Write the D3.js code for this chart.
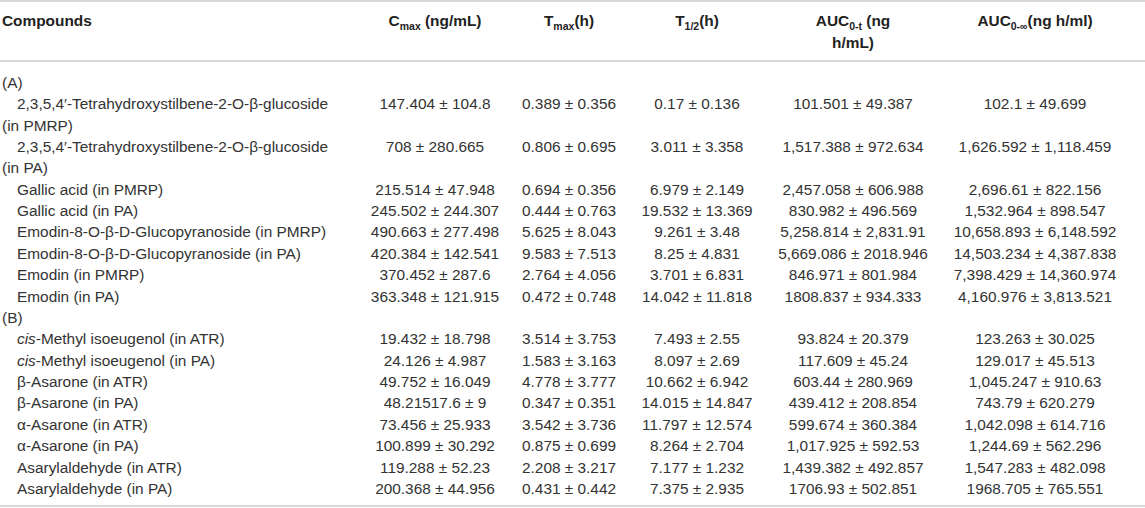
<!DOCTYPE html>
<html><head><meta charset="utf-8">
<script src="https://cdn.jsdelivr.net/npm/d3@7"></script>
<style>html,body{margin:0;padding:0;background:#fff;}svg{display:block;}</style>
</head><body><svg id="c" width="1145" height="508"></svg>
<script>
// ---------------- DATA ----------------
const sectionLabels = ["(A)", "(B)"];
const compoundsA = [
  "2,3,5,4′-Tetrahydroxystilbene-2-O-β-glucoside (in PMRP)",
  "2,3,5,4′-Tetrahydroxystilbene-2-O-β-glucoside (in PA)",
  "Gallic acid (in PMRP)",
  "Gallic acid (in PA)",
  "Emodin-8-O-β-D-Glucopyranoside (in PMRP)",
  "Emodin-8-O-β-D-Glucopyranoside (in PA)",
  "Emodin (in PMRP)",
  "Emodin (in PA)"
];
const compoundsB = [
  "cis-Methyl isoeugenol (in ATR)",
  "cis-Methyl isoeugenol (in PA)",
  "β-Asarone (in ATR)",
  "β-Asarone (in PA)",
  "α-Asarone (in ATR)",
  "α-Asarone (in PA)",
  "Asarylaldehyde (in ATR)",
  "Asarylaldehyde (in PA)"
];
const cmaxValues = [
  "147.404 ± 104.8", "708 ± 280.665", "215.514 ± 47.948", "245.502 ± 244.307",
  "490.663 ± 277.498", "420.384 ± 142.541", "370.452 ± 287.6", "363.348 ± 121.915",
  "19.432 ± 18.798", "24.126 ± 4.987", "49.752 ± 16.049", "48.21517.6 ± 9",
  "73.456 ± 25.933", "100.899 ± 30.292", "119.288 ± 52.23", "200.368 ± 44.956"
];
const tmaxValues = [
  "0.389 ± 0.356", "0.806 ± 0.695", "0.694 ± 0.356", "0.444 ± 0.763",
  "5.625 ± 8.043", "9.583 ± 7.513", "2.764 ± 4.056", "0.472 ± 0.748",
  "3.514 ± 3.753", "1.583 ± 3.163", "4.778 ± 3.777", "0.347 ± 0.351",
  "3.542 ± 3.736", "0.875 ± 0.699", "2.208 ± 3.217", "0.431 ± 0.442"
];
const thalfValues = [
  "0.17 ± 0.136", "3.011 ± 3.358", "6.979 ± 2.149", "19.532 ± 13.369",
  "9.261 ± 3.48", "8.25 ± 4.831", "3.701 ± 6.831", "14.042 ± 11.818",
  "7.493 ± 2.55", "8.097 ± 2.69", "10.662 ± 6.942", "14.015 ± 14.847",
  "11.797 ± 12.574", "8.264 ± 2.704", "7.177 ± 1.232", "7.375 ± 2.935"
];
const auctValues = [
  "101.501 ± 49.387", "1,517.388 ± 972.634", "2,457.058 ± 606.988", "830.982 ± 496.569",
  "5,258.814 ± 2,831.91", "5,669.086 ± 2018.946", "846.971 ± 801.984", "1808.837 ± 934.333",
  "93.824 ± 20.379", "117.609 ± 45.24", "603.44 ± 280.969", "439.412 ± 208.854",
  "599.674 ± 360.384", "1,017.925 ± 592.53", "1,439.382 ± 492.857", "1706.93 ± 502.851"
];
const aucinfValues = [
  "102.1 ± 49.699", "1,626.592 ± 1,118.459", "2,696.61 ± 822.156", "1,532.964 ± 898.547",
  "10,658.893 ± 6,148.592", "14,503.234 ± 4,387.838", "7,398.429 ± 14,360.974", "4,160.976 ± 3,813.521",
  "123.263 ± 30.025", "129.017 ± 45.513", "1,045.247 ± 910.63", "743.79 ± 620.279",
  "1,042.098 ± 614.716", "1,244.69 ± 562.296", "1,547.283 ± 482.098", "1968.705 ± 765.551"
];
const headerMain = ["C", "T", "T", "AUC", "AUC"];
const headerSub  = ["max", "max", "1/2", "0-t", "0-∞"];
const headerTail = [" (ng/mL)", "(h)", "(h)", " (ng", "(ng h/ml)"];
const headerLine2 = ["", "", "", "h/mL)", ""];
const firstHeader = "Compounds";

// ---------------- LAYOUT ----------------
const W = 1145, H = 508;
const FS = 15.4;
const textColor = "#333";
const svg = d3.select("#c");
const valueCols = [cmaxValues, tmaxValues, thalfValues, auctValues, aucinfValues];
const colX = d3.scaleOrdinal().domain(d3.range(5)).range([435, 569, 697, 853, 1035]);

// build lines (wrap long names, keeping "(in X)" together)
const measure = svg.append("text").attr("font-family", "Liberation Sans, Arial, sans-serif")
  .attr("font-size", FS).attr("visibility", "hidden");
function width(s) { measure.text(s); return measure.node().getComputedTextLength(); }
const maxFirst = 322;
const lines = [];
let k = 0;
[[sectionLabels[0], compoundsA], [sectionLabels[1], compoundsB]].forEach(([lab, arr]) => {
  lines.push({ text: lab, indent: false, row: null });
  arr.forEach(name => {
    const words = name.split(" ");
    let cur = words[0];
    const pieces = [];
    for (let i = 1; i < words.length; i++) {
      const t = cur + " " + words[i];
      if (width(t) > maxFirst && pieces.length === 0) { pieces.push(cur); cur = words[i]; }
      else cur = t;
    }
    pieces.push(cur);
    pieces.forEach((p, j) => lines.push({ text: p, indent: j === 0, row: j === 0 ? k : null }));
    k++;
  });
});
measure.remove();

const y = d3.scaleLinear().domain([0, lines.length - 1]).range([82.5, 488.5]);

// rules
const rules = [1, 61, 506];
svg.selectAll("line.rule").data(rules).join("line")
  .attr("x1", 0).attr("x2", W).attr("y1", d => d).attr("y2", d => d)
  .attr("stroke", "#d8d8d8").attr("stroke-width", 2);

// header
const hdr = svg.append("g").attr("font-family", "Liberation Sans, Arial, sans-serif")
  .attr("font-weight", "bold").attr("fill", "#222").attr("font-size", FS);
hdr.append("text").attr("x", 2).attr("y", 21).attr("dy", "0.35em").text(firstHeader);
headerMain.forEach((m, i) => {
  const t = hdr.append("text").attr("x", colX(i)).attr("y", 21).attr("dy", "0.35em")
    .attr("text-anchor", "middle");
  t.append("tspan").text(m);
  t.append("tspan").attr("font-size", 10.5).attr("dy", 4).text(headerSub[i]);
  t.append("tspan").attr("dy", -4).text(headerTail[i]);
  if (headerLine2[i]) {
    hdr.append("text").attr("x", colX(i)).attr("y", 43).attr("dy", "0.35em")
      .attr("text-anchor", "middle").text(headerLine2[i]);
  }
});

// body
const body = svg.append("g").attr("font-family", "Liberation Sans, Arial, sans-serif")
  .attr("fill", textColor).attr("font-size", FS);
lines.forEach((ln, i) => {
  const t = body.append("text").attr("x", ln.indent ? 17 : 2).attr("y", y(i)).attr("dy", "0.35em");
  const m = ln.text.match(/^(cis)(-.*)$/);
  if (m) {
    t.append("tspan").attr("font-style", "italic").text(m[1]);
    t.append("tspan").text(m[2]);
  } else t.text(ln.text);
  if (ln.row !== null) {
    valueCols.forEach((col, c) => {
      body.append("text").attr("x", colX(c)).attr("y", y(i)).attr("dy", "0.35em")
        .attr("text-anchor", "middle").text(col[ln.row]);
    });
  }
});
</script></body></html>
